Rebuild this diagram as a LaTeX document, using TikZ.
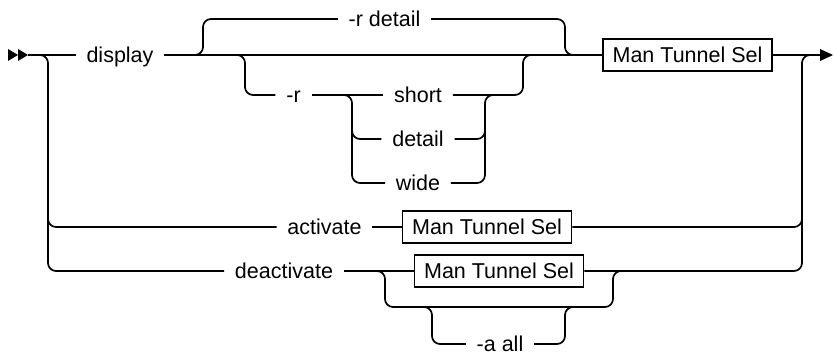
\documentclass[tikz,border=0pt]{standalone}
\usepackage{fontspec}
\setmainfont{Liberation Sans}
\begin{document}
\begin{tikzpicture}[x=1pt,y=-1pt,line width=1.7pt,
  rail/.style={draw,rounded corners=8pt},
  lbl/.style={font=\fontsize{21.5}{24}\selectfont,inner xsep=10pt,inner ysep=0pt,text height=15pt,text depth=0pt},
  refbox/.style={draw,sharp corners,font=\fontsize{21.5}{24}\selectfont,minimum width=169pt,minimum height=32pt,inner sep=0pt,text height=15pt,text depth=0pt},
  tip/.style={fill=black,draw=none,sharp corners}]
\useasboundingbox (0,0) rectangle (835,355);
% nodes
\node[lbl] (display) at (120,55) {display};
\node[lbl] (rdet) at (384.5,19) {-r detail};
\node[lbl] (r) at (293.5,95) {-r};
\node[lbl] (short) at (418,95) {short};
\node[lbl] (detail) at (418,139) {detail};
\node[lbl] (wide) at (418,183) {wide};
\node[refbox] (mts1) at (687.5,55) {Man Tunnel Sel};
\node[lbl] (act) at (324.5,227) {activate};
\node[refbox] (mts2) at (487,227) {Man Tunnel Sel};
\node[lbl] (deact) at (284,271) {deactivate};
\node[refbox] (mts3) at (499,271) {Man Tunnel Sel};
\node[lbl] (aall) at (500,344) {-a all};
% coordinates
\coordinate (start) at (28,55);
\coordinate (ls) at (38,55);
\coordinate (lv1) at (48,200);
\coordinate (lv2) at (48,271);
\coordinate (ta) at (193,55);
\coordinate (tb) at (203,19);
\coordinate (tc) at (565,55);
\coordinate (td) at (575,55);
\coordinate (sa) at (235,55);
\coordinate (sb) at (245,95);
\coordinate (se) at (523,55);
\coordinate (sf) at (533,55);
\coordinate (ca) at (344,95);
\coordinate (cb) at (352,95);
\coordinate (cc) at (352,120);
\coordinate (cd) at (485,95);
\coordinate (ce) at (493,95);
\coordinate (cf) at (485,120);
\coordinate (endarrow) at (820,55);
\coordinate (ra) at (802,55);
\coordinate (rb) at (812,55);
\coordinate (rc) at (802,215);
\coordinate (da) at (375,271);
\coordinate (db) at (385,307);
\coordinate (dc) at (613,271);
\coordinate (dd) at (623,271);
\coordinate (aa) at (422,307);
\coordinate (ab) at (432,344);
\coordinate (ac) at (565,307);
\coordinate (ad) at (573,307);
% arrows
\path[tip] (8,49) -- (18,55) -- (8,61) -- cycle;
\path[tip] (18,49) -- (28,55) -- (18,61) -- cycle;
\path[tip] (820,49) -- (833,55) -- (820,61) -- cycle;
% rails
\path[rail] (start) -- (display.west);
\path[rail] (ls) -| (lv2) -- (deact.west);
\path[rail] (lv1) |- (act.west);
\path[rail] (display.east) -- (mts1.west);
\path[rail] (ta) -| (tb) -- (rdet.west);
\path[rail] (rdet.east) -| (tc) -- (td);
\path[rail] (sa) -| (sb) -- (r.west);
\path[rail] (r.east) -- (short.west);
\path[rail] (short.east) -| (se) -- (sf);
\path[rail] (ca) -- (cb) |- (wide.west);
\path[rail] (cc) |- (detail.west);
\path[rail] (wide.east) -| (cd) -- (ce);
\path[rail] (detail.east) -| (cf);
\path[rail] (mts1.east) -- (endarrow);
\path[rail] (act.east) -- (mts2.west);
\path[rail] (mts2.east) -| (ra) -- (rb);
\path[rail] (deact.east) -- (mts3.west);
\path[rail] (mts3.east) -| (rc);
\path[rail] (da) -| (db) -| (dc) -- (dd);
\path[rail] (aa) -| (ab) -- (aall.west);
\path[rail] (aall.east) -| (ac) -- (ad);
\end{tikzpicture}
\end{document}
